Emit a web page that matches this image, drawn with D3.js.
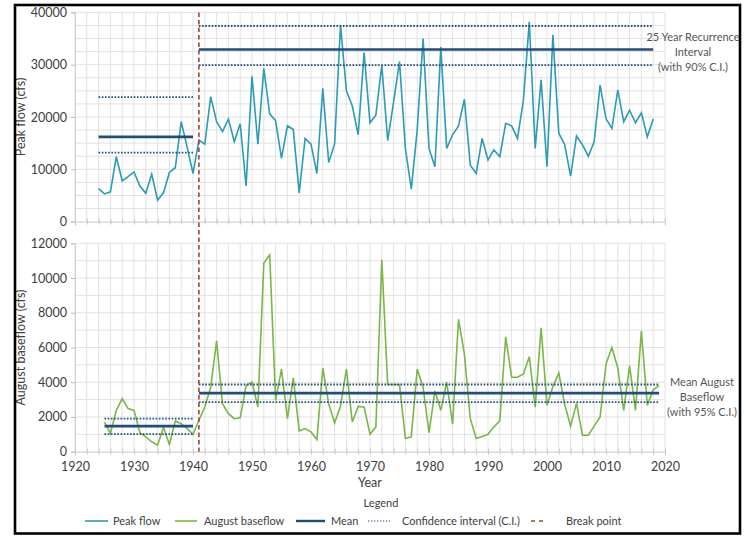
<!DOCTYPE html>
<html><head><meta charset="utf-8">
<script src="https://cdn.jsdelivr.net/npm/d3@7"></script>
<style>
body{margin:0;background:#fff;}
text{font-family:Lato,"Open Sans",sans-serif;}
</style></head>
<body><svg id="c" width="746" height="536"></svg>
<script>
const peakYears = d3.range(1924, 2019);
const peakFlow = [6300,5300,5700,12400,7800,8600,9500,6800,5400,9100,4100,5500,9400,10300,19100,14300,9200,
15600,14800,23900,19100,17200,19600,15300,18700,6800,27800,14800,29300,20600,19300,12100,18300,17600,5500,15900,
14800,9200,25500,11300,14800,37600,25000,22100,16600,32300,18900,20400,29900,15500,22900,30600,14000,6200,17500,
35000,14000,10500,33400,14000,16600,18300,23400,10800,9200,15900,11800,13700,12400,18800,18300,15900,23200,38200,
14000,27100,10500,35700,16900,14700,8700,16400,14700,12500,15300,26100,19700,17800,25200,19100,21300,18900,20800,16200,19600];
const baseYears = d3.range(1925, 2020);
const augBaseflow = [1700,1050,2380,3050,2480,2380,1090,860,570,380,1390,420,1770,1620,1330,1000,
1810,2570,3710,6380,2760,2190,1900,1950,3810,4000,2570,10860,11340,2950,4760,1900,4250,1200,1330,1140,700,4820,
2760,1660,2610,4760,1710,2610,2570,1010,1430,11050,3870,3870,3870,760,860,4760,3710,1090,3490,2380,4000,1580,
7620,5620,1900,760,880,1000,1430,1770,6610,4290,4290,4480,5470,2570,7140,2670,3750,4530,2720,1470,2800,950,950,
1470,2000,5050,6000,4820,2380,4950,2380,6950,2670,3560,3810];
// period statistics: [startYear, endYear, lowerCI, mean, upperCI]
const peakStats = [[1924,1940,13200,16200,23800],[1941,2018,29900,32900,37400]];
const baseStats = [[1925,1940,1010,1470,1900],[1941,2019,2860,3370,3870]];
const breakYear = 1941;
const xTicks = d3.range(1920, 2021, 10);
const peakTicks = d3.range(0, 40001, 10000);
const baseTicks = d3.range(0, 12001, 2000);
const legendItems = ["Peak flow","August baseflow","Mean","Confidence interval (C.I.)","Break point"];

const C = {peak:"#2b9bb6", base:"#7ab648", mean:"#1f4e79", ci:"#1f4e79", brk:"#a8403a", grid:"#e2e2e2", txt:"#404040"};
const svg = d3.select("#c");
const x = d3.scaleLinear().domain([1920,2020]).range([75,665]);
const yT = d3.scaleLinear().domain([0,40000]).range([221.6,12.4]);
const yB = d3.scaleLinear().domain([0,12000]).range([451.7,243.3]);

function grid(y, step, maxV){
  const g = svg.append("g");
  g.selectAll("line.v").data(d3.range(1920,2021,2)).enter().append("line")
    .attr("x1",d=>x(d)).attr("x2",d=>x(d)).attr("y1",y(0)).attr("y2",y(maxV))
    .attr("stroke",C.grid).attr("stroke-width",1);
  g.selectAll("line.h").data(d3.range(step,maxV+1,step)).enter().append("line")
    .attr("x1",x(1920)).attr("x2",x(2020)).attr("y1",d=>y(d)).attr("y2",d=>y(d))
    .attr("stroke",C.grid).attr("stroke-width",1);
}
grid(yT,2500,40000);
grid(yB,1000,12000);

function yAxis(y, ticks){
  const a = svg.append("g").attr("transform",`translate(${x(1920)},0)`)
    .call(d3.axisLeft(y).tickValues(ticks).tickSize(4).tickPadding(4).tickFormat(d3.format("d")));
  a.select(".domain").attr("stroke","#d0d0d0");
  a.selectAll(".tick line").attr("stroke","#bbb");
  a.selectAll("text").attr("fill",C.txt).style("font-size","12.5px").style("font-family","Lato,'Open Sans',sans-serif");
}
yAxis(yT,peakTicks); yAxis(yB,baseTicks);

function xAxis(y, labels){
  const a = svg.append("g").attr("transform",`translate(0,${y(0)})`)
    .call(d3.axisBottom(x).tickValues(d3.range(1920,2021,2)).tickSize(4).tickPadding(6)
      .tickFormat(d=> (labels && d%10===0) ? d : ""));
  a.select(".domain").attr("stroke","#c8c8c8");
  a.selectAll(".tick line").attr("stroke","#c8c8c8").attr("y1",-3).attr("y2",3);
  a.selectAll("text").attr("fill",C.txt).style("font-size","12.5px").style("font-family","Lato,'Open Sans',sans-serif");
}
xAxis(yT,false); xAxis(yB,true);

function stats(y, st){
  st.forEach(s=>{
    [[s[2],"ci"],[s[4],"ci"],[s[3],"mean"]].forEach(([v,k])=>{
      const l = svg.append("line").attr("x1",x(s[0])).attr("x2",x(s[1])).attr("y1",y(v)).attr("y2",y(v))
        .attr("stroke",C[k]);
      if(k==="ci") l.attr("stroke-width",1.8).attr("stroke-dasharray","1.6,1.6");
      else l.attr("stroke-width",2.6);
    });
  });
}
svg.append("path").datum(peakYears.map((d,i)=>[d,peakFlow[i]]))
  .attr("d",d3.line().x(d=>x(d[0])).y(d=>yT(d[1]))).attr("fill","none").attr("stroke",C.peak).attr("stroke-width",1.6);
svg.append("path").datum(baseYears.map((d,i)=>[d,augBaseflow[i]]))
  .attr("d",d3.line().x(d=>x(d[0])).y(d=>yB(d[1]))).attr("fill","none").attr("stroke",C.base).attr("stroke-width",1.6);
stats(yT,peakStats); stats(yB,baseStats);

svg.append("line").attr("x1",x(breakYear)).attr("x2",x(breakYear)).attr("y1",yT(40000)).attr("y2",yB(0))
  .attr("stroke",C.brk).attr("stroke-width",1.6).attr("stroke-dasharray","4.5,3");

svg.append("text").attr("transform",`translate(25,${(yT(0)+yT(40000))/2}) rotate(-90)`).attr("text-anchor","middle")
  .attr("fill",C.txt).style("font-size","12.5px").text("Peak flow (cfs)");
svg.append("text").attr("transform",`translate(25,${(yB(0)+yB(12000))/2}) rotate(-90)`).attr("text-anchor","middle")
  .attr("fill",C.txt).style("font-size","12.5px").text("August baseflow (cfs)");
svg.append("text").attr("x",x(1970)).attr("y",487).attr("text-anchor","middle").attr("fill",C.txt).style("font-size","12.5px").text("Year");

function note(cx, y0, lines){
  lines.forEach((t,i)=>svg.append("text").attr("x",cx).attr("y",y0+i*15).attr("text-anchor","middle")
    .attr("fill","#555").style("font-size","11px").text(t));
}
note(693, 41, ["25 Year Recurrence","Interval","(with 90% C.I.)"]);
note(702, 386, ["Mean August","Baseflow","(with 95% C.I.)"]);

svg.append("text").attr("x",381).attr("y",507).attr("text-anchor","middle").attr("fill",C.txt).style("font-size","11px").text("Legend");
const lg = [
  {x1:85,x2:108,tx:113,color:C.peak,dash:null,w:1.6},
  {x1:175,x2:197,tx:204,color:C.base,dash:null,w:1.6},
  {x1:296,x2:325,tx:331,color:C.mean,dash:null,w:2.4},
  {x1:368,x2:390,tx:402,color:C.ci,dash:"1.3,1.7",w:1.2},
  {x1:531,x2:547,tx:566,color:C.brk,dash:"4,4",w:1.6}
];
lg.forEach((d,i)=>{
  const l = svg.append("line").attr("x1",d.x1).attr("x2",d.x2).attr("y1",521).attr("y2",521)
    .attr("stroke",d.color).attr("stroke-width",d.w);
  if(d.dash) l.attr("stroke-dasharray",d.dash);
  svg.append("text").attr("x",d.tx).attr("y",525).attr("fill",C.txt).style("font-size","11px").text(legendItems[i]);
});

svg.append("rect").attr("x",15).attr("y",5).attr("width",725).attr("height",528.5)
  .attr("fill","none").attr("stroke","#000").attr("stroke-width",2.6);
</script></body></html>
